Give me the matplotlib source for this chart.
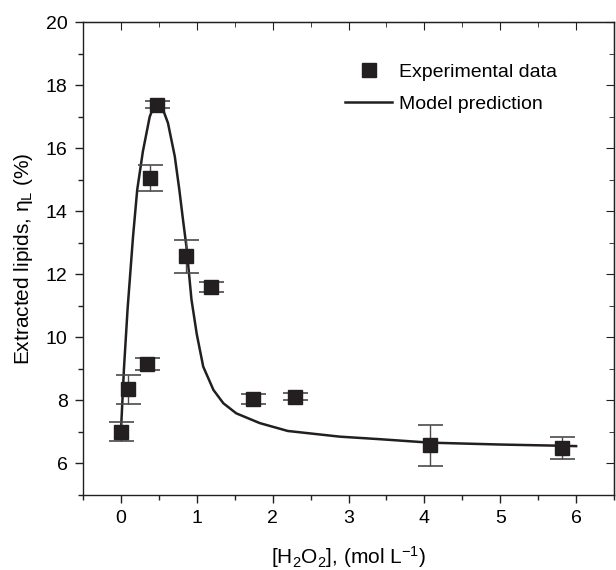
import matplotlib
matplotlib.use("Agg")
import matplotlib.pyplot as plt
from matplotlib.ticker import MultipleLocator
from matplotlib.lines import Line2D

plt.rcParams['font.family'] = ['Liberation Sans', 'DejaVu Sans']
plt.rcParams['mathtext.fontset'] = 'custom'
plt.rcParams['mathtext.rm'] = 'Liberation Sans'
plt.rcParams['mathtext.it'] = 'Liberation Sans'

# Experimental data
h2o2 = [0.0, 0.10, 0.34, 0.38, 0.47, 0.86, 1.19, 1.74, 2.30, 4.07, 5.82]
lipids = [7.0, 8.35, 9.15, 15.05, 17.38, 12.57, 11.6, 8.05, 8.12, 6.57, 6.48]
lipids_err = [0.3, 0.47, 0.2, 0.42, 0.1, 0.52, 0.17, 0.15, 0.12, 0.65, 0.35]

# Model prediction
model_x = [0.0, 0.04, 0.088, 0.16, 0.215, 0.29, 0.38, 0.43, 0.49, 0.55, 0.62,
           0.71, 0.77, 0.82, 0.865, 0.93, 1.0, 1.085, 1.22, 1.35, 1.52, 1.83,
           2.2, 2.885, 3.41, 4.07, 5.0, 5.83, 6.0]
model_y = [7.0, 9.0, 10.9, 13.2, 14.68, 15.9, 17.0, 17.3, 17.38, 17.25, 16.8,
           15.74, 14.68, 13.7, 12.85, 11.2, 10.1, 9.07, 8.33, 7.91, 7.59, 7.28,
           7.03, 6.85, 6.77, 6.66, 6.60, 6.56, 6.55]

fig = plt.figure(figsize=(6.16, 5.70), dpi=100)
ax = fig.add_axes([0.1347, 0.1316, 0.8621, 0.8298])

ax.plot(model_x, model_y, color='#231f20', lw=1.8, zorder=2)
ax.errorbar(h2o2, lipids, yerr=lipids_err, fmt='none', ecolor='#4a4a4a',
            elinewidth=1.0, capsize=9, capthick=1.2, zorder=3)
ax.plot(h2o2, lipids, 's', color='#231f20', markersize=10.5, zorder=4)

ax.set_xlim(-0.5, 6.5)
ax.set_ylim(5, 20)
ax.xaxis.set_major_locator(MultipleLocator(1))
ax.xaxis.set_minor_locator(MultipleLocator(0.5))
ax.yaxis.set_major_locator(MultipleLocator(2))
ax.yaxis.set_minor_locator(MultipleLocator(1))
ax.set_yticks([6, 8, 10, 12, 14, 16, 18, 20])

ax.tick_params(which='both', direction='out', top=False, right=False,
               labelsize=14, width=1.0, color='#231f20', pad=5)
ax.tick_params(which='major', length=6)
ax.tick_params(which='minor', length=3.5)
for s in ax.spines.values():
    s.set_linewidth(1.0)
    s.set_color('#231f20')

# mirrored inward ticks on top/right
axt = ax.secondary_xaxis('top')
axt.xaxis.set_major_locator(MultipleLocator(1))
axt.xaxis.set_minor_locator(MultipleLocator(0.5))
axt.tick_params(which='both', direction='in', labeltop=False, color='#231f20')
axt.tick_params(which='major', length=6)
axt.tick_params(which='minor', length=3.5)
axr = ax.secondary_yaxis('right')
axr.yaxis.set_major_locator(MultipleLocator(2))
axr.yaxis.set_minor_locator(MultipleLocator(1))
axr.tick_params(which='both', direction='in', labelright=False, color='#231f20')
axr.tick_params(which='major', length=6)
axr.tick_params(which='minor', length=3.5)

ax.set_xlabel(r'[H$_2$O$_2$], (mol L$^{-1}$)', fontsize=15, labelpad=12)
ax.set_ylabel(r'Extracted lipids, $\eta_L$ (%)', fontsize=15, labelpad=8)

handles = [Line2D([], [], marker='s', ls='none', color='#231f20', markersize=10.5),
           Line2D([], [], color='#231f20', lw=1.8)]
ax.legend(handles, ['Experimental data', 'Model prediction'], loc='upper right',
          bbox_to_anchor=(0.925, 0.95), frameon=False, fontsize=14,
          handlelength=2.4, handletextpad=0.35, labelspacing=0.75)

fig.savefig('out.png', dpi=100)
